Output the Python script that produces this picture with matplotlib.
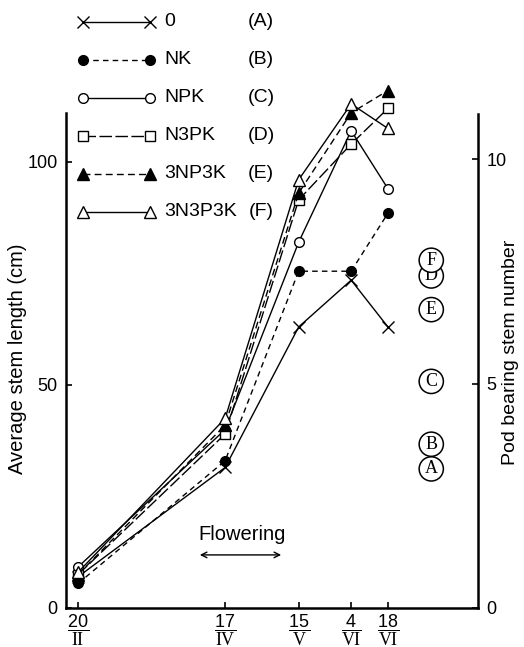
import matplotlib
matplotlib.use("Agg")
import matplotlib.pyplot as plt

plt.rcParams['font.family'] = ['Liberation Sans', 'DejaVu Sans']
plt.rcParams['mathtext.fontset'] = 'custom'
plt.rcParams['mathtext.rm'] = 'Liberation Serif'
plt.rcParams['mathtext.sf'] = 'Liberation Sans'

# ---- data ----
dates_doy = [51, 107, 135, 155, 169]          # 20 Feb, 17 Apr, 15 May, 4 Jun, 18 Jun
date_nums = ['20', '17', '15', '4', '18']
date_months = ['II', 'IV', 'V', 'VI', 'VI']

names = ['0', 'NK', 'NPK', 'N3PK', '3NP3K', '3N3P3K']
codes = ['A', 'B', 'C', 'D', 'E', 'F']
stem_A = [7.0, 31.5, 63.0, 73.5, 63.0]
stem_B = [5.5, 33.0, 75.5, 75.5, 88.5]
stem_C = [9.2, 40.0, 82.0, 107.0, 94.0]
stem_D = [7.5, 39.0, 91.5, 104.0, 112.0]
stem_E = [7.5, 41.0, 93.0, 111.0, 116.0]
stem_F = [8.0, 42.5, 96.0, 113.0, 107.5]
stems = [stem_A, stem_B, stem_C, stem_D, stem_E, stem_F]
pod_stems = [3.1, 3.65, 5.05, 7.4, 6.65, 7.75]   # pod bearing stem number per treatment

styles = [
    dict(marker='x', ls='-', mfc='black', ms=8, mew=1.0),
    dict(marker='o', ls=(0, (4, 3)), mfc='black', ms=7),
    dict(marker='o', ls='-', mfc='white', ms=7),
    dict(marker='s', ls=(0, (9, 2.5)), mfc='white', ms=6.5),
    dict(marker='^', ls=(0, (5, 3)), mfc='black', ms=8),
    dict(marker='^', ls='-', mfc='white', ms=8),
]

W, H = 524, 647
fig = plt.figure(figsize=(W / 100, H / 100), dpi=100)
ax = fig.add_axes([66 / W, 1 - 608 / H, (478 - 66) / W, 608 / H])
ax.set_xlim(46.4, 203.3)
ax.set_ylim(0, 136.3)

for vals, st in zip(stems, styles):
    ax.plot(dates_doy, vals, color='black', lw=1.0, mec='black', clip_on=False, **st)

for s in ['top', 'right']:
    ax.spines[s].set_visible(False)
ax.spines['left'].set_bounds(0, 111)
ax.spines['left'].set_linewidth(1.8)
ax.spines['bottom'].set_linewidth(1.8)
ax.set_yticks([0, 50, 100])
ax.tick_params(axis='y', direction='in', length=4, width=1.2, labelsize=13, pad=6)
ax.set_xticks(dates_doy)
ax.set_xticklabels([r'$\dfrac{\mathsf{%s}}{\mathrm{%s}}$' % (n, m) for n, m in zip(date_nums, date_months)],
                   fontsize=13)
ax.tick_params(axis='x', direction='in', length=4, width=1.2, pad=3)
ax.set_ylabel('Average stem length (cm)', fontsize=14.5)
ax.yaxis.set_label_coords(-0.095, 0.41)

# right axis
ax2 = ax.twinx()
ax2.set_ylim(0, 13.55)
for s in ['top', 'left', 'bottom']:
    ax2.spines[s].set_visible(False)
ax2.spines['right'].set_bounds(0, 11.0)
ax2.spines['right'].set_linewidth(1.8)
ax2.set_yticks([0, 5, 10])
ax2.tick_params(axis='y', direction='in', length=4, width=1.2, labelsize=13, pad=6)
ax2.text(1.08, 0.42, 'Pod bearing stem number', transform=ax2.transAxes,
         rotation=90, ha='center', va='center', fontsize=14)

# circled letters for pod bearing stem number
for c, v in zip(codes, pod_stems):
    ax2.text(185.5, v, c, ha='center', va='center', fontsize=13,
             family='Liberation Serif',
             bbox=dict(boxstyle='circle,pad=0.2', fc='white', ec='black', lw=1.1))

# flowering arrow
ax.annotate('', xy=(96.3, 11.9), xytext=(129.4, 11.9),
            arrowprops=dict(arrowstyle='<->', color='black', lw=1.0))
ax.text(113.5, 16.5, 'Flowering', ha='center', va='center', fontsize=14.5)

# legend (manual)
lg = fig.add_axes([0, 0, 1, 1])
lg.set_xlim(0, W)
lg.set_ylim(H, 0)
lg.axis('off')
lg.patch.set_alpha(0)
row_y = [22, 60, 98, 136, 174, 212]
for y, st, name, c in zip(row_y, styles, names, codes):
    lg.plot([83, 150], [y, y], color='black', lw=1.0, mec='black', **st)
    lg.text(164, y, name, ha='left', va='center', fontsize=14)
    lg.text(261, y, '(%s)' % c, ha='center', va='center', fontsize=14)

fig.savefig('out.png', dpi=100)
